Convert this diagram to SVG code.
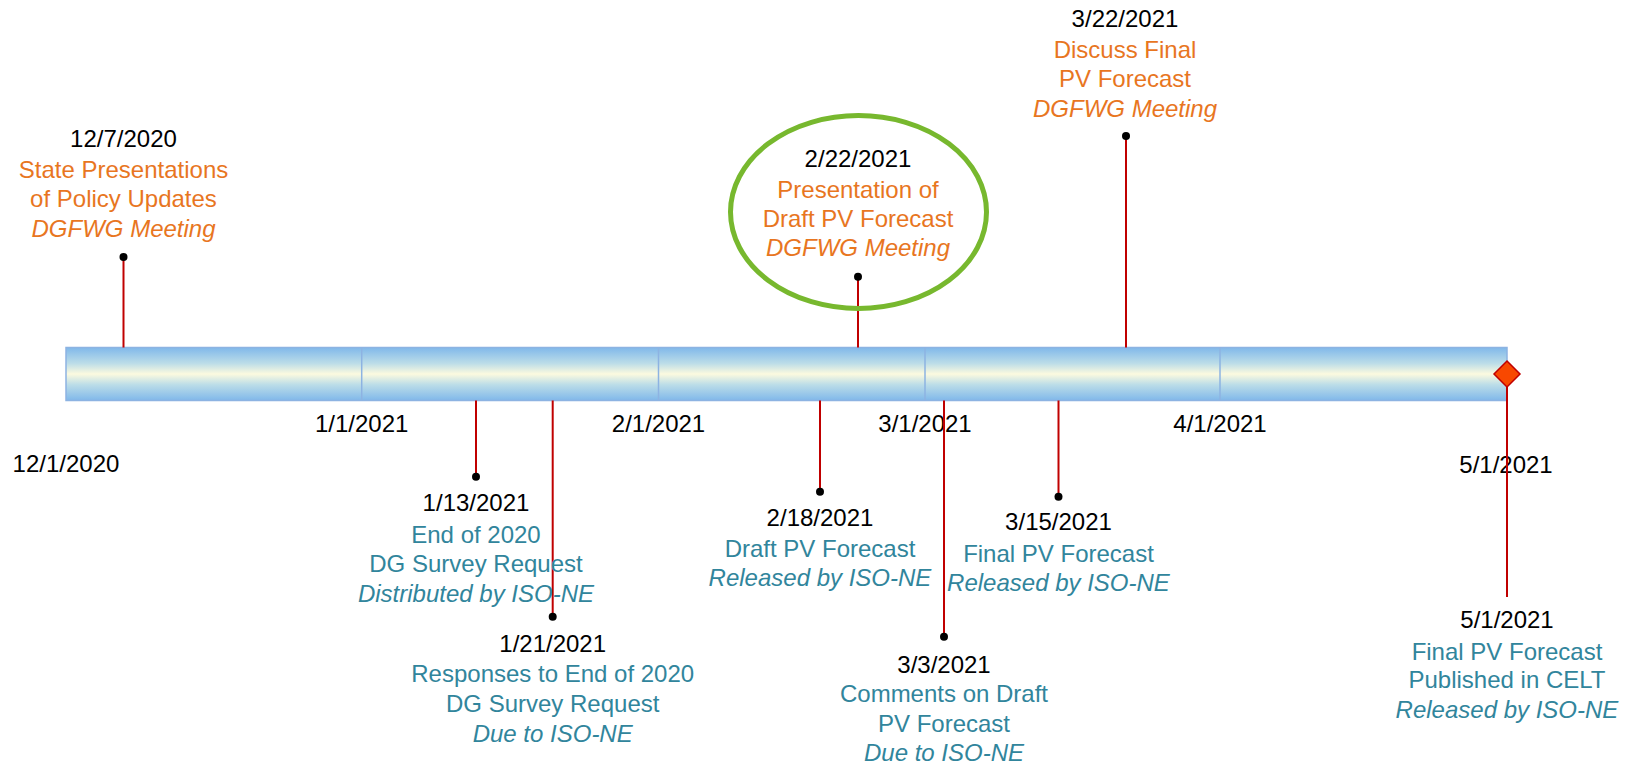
<svg xmlns="http://www.w3.org/2000/svg" width="1639" height="766" viewBox="0 0 1639 766">
<defs>
<linearGradient id="barGrad" x1="0" y1="0" x2="0" y2="1">
<stop offset="0" stop-color="#80B8EA"/>
<stop offset="0.3" stop-color="#BCDDE8"/>
<stop offset="0.5" stop-color="#FCFADF"/>
<stop offset="0.7" stop-color="#BCDDE8"/>
<stop offset="1" stop-color="#80B8EA"/>
</linearGradient>
<style>
text{font-family:"Liberation Sans",Arial,sans-serif;font-size:24px;text-anchor:middle}
.d{fill:#000}
.o{fill:#E8761F}
.t{fill:#31859C}
.i{font-style:italic}
.stem{stroke:#C00000;stroke-width:2;fill:none}
.dot{fill:#000}
.div{stroke:#8DB3E2;stroke-width:1.5}
</style>
</defs>
<rect width="1639" height="766" fill="#fff"/>
<g id="timeline-bar">
<rect x="66" y="347.5" width="1441" height="53" fill="url(#barGrad)" stroke="#8DB3E2" stroke-width="1.5"/>
<line class="div" x1="361.7" y1="347.5" x2="361.7" y2="400.5"/>
<line class="div" x1="658.5" y1="347.5" x2="658.5" y2="400.5"/>
<line class="div" x1="925" y1="347.5" x2="925" y2="400.5"/>
<line class="div" x1="1220" y1="347.5" x2="1220" y2="400.5"/>
</g>
<g id="axis-labels">
<text class="d" x="66" y="472">12/1/2020</text>
<text class="d" x="361.7" y="432">1/1/2021</text>
<text class="d" x="658.5" y="432">2/1/2021</text>
<text class="d" x="925" y="432">3/1/2021</text>
<text class="d" x="1220" y="432">4/1/2021</text>
<text class="d" x="1506" y="473">5/1/2021</text>
</g>
<g id="connectors">
<line class="stem" x1="123.5" y1="257" x2="123.5" y2="347.5"/>
<line class="stem" x1="858" y1="276.7" x2="858" y2="347.5"/>
<line class="stem" x1="1126" y1="136" x2="1126" y2="347.5"/>
<line class="stem" x1="476" y1="400.5" x2="476" y2="476.7"/>
<line class="stem" x1="552.7" y1="400.5" x2="552.7" y2="616.7"/>
<line class="stem" x1="820" y1="400.5" x2="820" y2="491.7"/>
<line class="stem" x1="944" y1="400.5" x2="944" y2="636.7"/>
<line class="stem" x1="1058.5" y1="400.5" x2="1058.5" y2="496.7"/>
<line class="stem" x1="1507" y1="374" x2="1507" y2="597"/>
</g>
<g id="ev-1207">
<circle class="dot" cx="123.5" cy="257" r="4"/>
<text class="d" x="123.5" y="146.7">12/7/2020</text>
<text class="o" x="123.5" y="178.3">State Presentations</text>
<text class="o" x="123.5" y="207.3">of Policy Updates</text>
<text class="o i" x="123.5" y="236.7">DGFWG Meeting</text>
</g>
<g id="ev-0222">
<ellipse cx="858.5" cy="212" rx="128" ry="96.5" fill="none" stroke="#77B82E" stroke-width="5"/>
<circle class="dot" cx="858" cy="276.7" r="4"/>
<text class="d" x="858" y="166.7">2/22/2021</text>
<text class="o" x="858" y="198.3">Presentation of</text>
<text class="o" x="858" y="227.3">Draft PV Forecast</text>
<text class="o i" x="858" y="256">DGFWG Meeting</text>
</g>
<g id="ev-0322">
<circle class="dot" cx="1126" cy="136" r="4"/>
<text class="d" x="1125" y="26.7">3/22/2021</text>
<text class="o" x="1125" y="58.3">Discuss Final</text>
<text class="o" x="1125" y="87.3">PV Forecast</text>
<text class="o i" x="1125" y="116.7">DGFWG Meeting</text>
</g>
<g id="ev-0113">
<circle class="dot" cx="476" cy="476.7" r="4"/>
<text class="d" x="476" y="511">1/13/2021</text>
<text class="t" x="476" y="542.7">End of 2020</text>
<text class="t" x="476" y="571.7">DG Survey Request</text>
<text class="t i" x="476" y="601.7">Distributed by ISO-NE</text>
</g>
<g id="ev-0121">
<circle class="dot" cx="552.7" cy="616.7" r="4"/>
<text class="d" x="552.7" y="651.7">1/21/2021</text>
<text class="t" x="552.7" y="682.3">Responses to End of 2020</text>
<text class="t" x="552.7" y="712.3">DG Survey Request</text>
<text class="t i" x="552.7" y="741.7">Due to ISO-NE</text>
</g>
<g id="ev-0218">
<circle class="dot" cx="820" cy="491.7" r="4"/>
<text class="d" x="820" y="526">2/18/2021</text>
<text class="t" x="820" y="557.3">Draft PV Forecast</text>
<text class="t i" x="820" y="586">Released by ISO-NE</text>
</g>
<g id="ev-0303">
<circle class="dot" cx="944" cy="636.7" r="4"/>
<text class="d" x="944" y="672.7">3/3/2021</text>
<text class="t" x="944" y="701.7">Comments on Draft</text>
<text class="t" x="944" y="732.2">PV Forecast</text>
<text class="t i" x="944" y="760.7">Due to ISO-NE</text>
</g>
<g id="ev-0315">
<circle class="dot" cx="1058.5" cy="496.7" r="4"/>
<text class="d" x="1058.5" y="530">3/15/2021</text>
<text class="t" x="1058.5" y="561.7">Final PV Forecast</text>
<text class="t i" x="1058.5" y="590.7">Released by ISO-NE</text>
</g>
<g id="ev-0501">
<polygon points="1507,361 1520,374 1507,387 1494,374" fill="#F84800" stroke="#C00000" stroke-width="1.5"/>
<text class="d" x="1507" y="628.3">5/1/2021</text>
<text class="t" x="1507" y="660">Final PV Forecast</text>
<text class="t" x="1507" y="688.3">Published in CELT</text>
<text class="t i" x="1507" y="717.7">Released by ISO-NE</text>
</g>
</svg>
